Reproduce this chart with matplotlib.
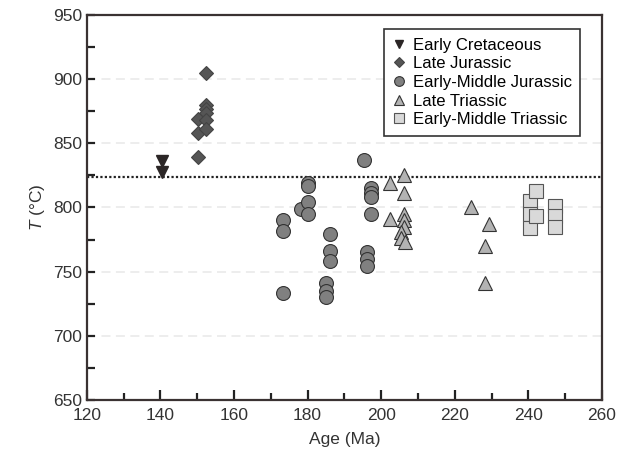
import numpy as np
import matplotlib
matplotlib.use('Agg')
import matplotlib.pyplot as plt
from matplotlib.ticker import MultipleLocator

plt.rcParams['font.family'] = ['Liberation Sans', 'DejaVu Sans']
plt.rcParams['mathtext.fontset'] = 'custom'
plt.rcParams['mathtext.it'] = 'Liberation Sans:italic'
plt.rcParams['mathtext.rm'] = 'Liberation Sans'

# 数据 (Age Ma, T °C)
cret_age = [140.3, 140.3]
cret_t = [836, 828]

ljur_age = [152.3, 152.3, 152.3, 152.3, 150.3, 152.3, 150.3, 152.3, 150.3]
ljur_t = [905, 880, 877, 874, 869, 868, 858, 861, 839]

emjur_age = [173.2, 173.2, 173.4, 178.1, 180.1, 180.1, 180.1, 180.1,
             186.2, 186.2, 186.2, 185.1, 185.1, 185.1,
             195.3, 197.2, 197.2, 197.2, 197.2, 196.2, 196.2, 196.2]
emjur_t = [790, 782, 733, 799, 819, 817, 804, 795,
           779, 766, 758, 741, 735, 730,
           837, 815, 811, 808, 795, 765, 760, 754]

ltri_age = [202.3, 206.1, 206.1, 202.3, 206.1, 206.1, 206.1, 205.5, 205.5, 206.4,
            224.3, 229.3, 228.3, 228.3]
ltri_t = [819, 825, 811, 791, 795, 790, 785, 781, 776, 773,
          800, 787, 770, 741]

emtri_age = [240.5, 240.5, 240.5, 242.2, 242.2, 247.2, 247.2, 247.2]
emtri_t = [805, 795, 784, 813, 793, 801, 793, 785]

threshold = 824

fig = plt.figure(figsize=(6.25, 4.57), dpi=100)
ax = fig.add_axes([0.139, 0.125, 0.824, 0.842])

# 网格线
for yv in [700, 750, 800, 850, 900]:
    ax.axhline(yv, color='#ececec', lw=1.3, ls=(0, (5, 3)), zorder=0)
ax.axhline(threshold, color='#222222', lw=1.6, ls=(0, (1, 1)), zorder=1)

edge = '#333333'
ax.plot(cret_age, cret_t, 'v', ms=9, color='#2b2626', mec='#2b2626',
        label='Early Cretaceous', zorder=3)
ax.plot(ljur_age, ljur_t, 'D', ms=7, color='#555555', mec='#444444', mew=0.8,
        label='Late Jurassic', zorder=3)
ax.plot(emjur_age, emjur_t, 'o', ms=10, color='#808080', mec=edge, mew=0.8,
        label='Early-Middle Jurassic', zorder=3)
ax.plot(ltri_age, ltri_t, '^', ms=10, color='#b3b3b3', mec=edge, mew=0.8,
        label='Late Triassic', zorder=3)
ax.plot(emtri_age, emtri_t, 's', ms=9.5, color='#d9d9d9', mec='#555555', mew=0.8,
        label='Early-Middle Triassic', zorder=3)

ax.set_xlim(120, 260)
ax.set_ylim(650, 950)
ax.xaxis.set_major_locator(MultipleLocator(20))
ax.xaxis.set_minor_locator(MultipleLocator(10))
ax.yaxis.set_major_locator(MultipleLocator(50))
ax.yaxis.set_minor_locator(MultipleLocator(25))
ax.tick_params(which='both', direction='in', color='#222222', width=1.6,
               labelsize=12.5, labelcolor='#333333')
ax.tick_params(axis='x', which='major', length=7)
ax.tick_params(axis='x', which='minor', length=5)
ax.tick_params(axis='y', which='both', length=6)
ax.tick_params(axis='x', pad=6)
for s in ax.spines.values():
    s.set_color('#3a3232')
    s.set_linewidth(1.6)

ax.set_xlabel('Age (Ma)', fontsize=12.5, color='#333333', labelpad=6)
ax.set_ylabel('$T$ (°C)', fontsize=12.5, color='#333333')

leg = ax.legend(loc='upper right', bbox_to_anchor=(0.974, 0.985), fontsize=12,
                markerscale=0.7, handlelength=0.8, handletextpad=0.4,
                labelspacing=0.22, borderpad=0.5, fancybox=False, framealpha=1)
leg.get_frame().set_edgecolor('#333333')
leg.get_frame().set_linewidth(1.2)

plt.savefig('out.png', dpi=100)
